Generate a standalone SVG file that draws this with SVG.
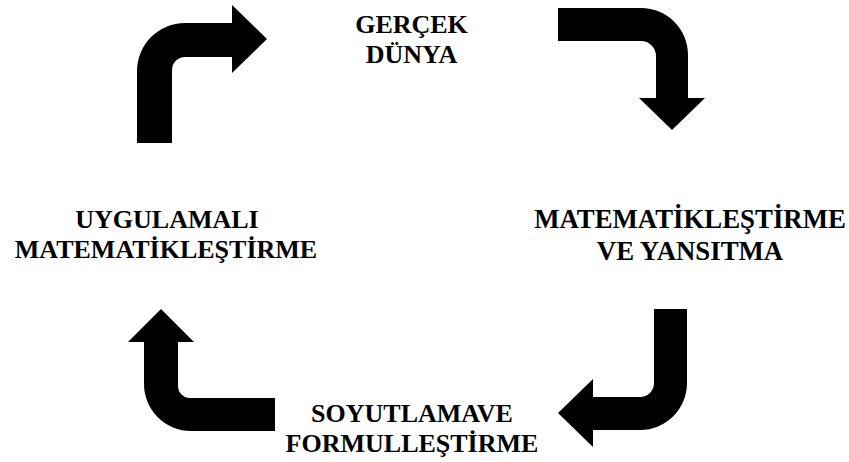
<svg xmlns="http://www.w3.org/2000/svg" width="849" height="462" viewBox="0 0 849 462">
  <style>
    .bg { fill: #ffffff; }
    .arrow { fill: #000000; stroke: none; }
    .label { font-family: "Liberation Serif", "Times New Roman", serif; font-weight: bold; font-size: 26px; fill: #000000; text-anchor: middle; }
    .label.wide { font-size: 26.8px; }
  </style>
  <rect class="bg" x="0" y="0" width="849" height="462"/>

  <!-- curved block arrows linking the stages of the cycle -->
  <g id="connectors">
    <path id="arrow-top-left" class="arrow" d="M137,143 V71 A48,48 0 0 1 185,23 H232 V5 L267,39 L232,73 V57 H185 A13,13 0 0 0 172,70 V143 Z"/>
    <path id="arrow-top-right" class="arrow" d="M558,8 H641 A47,47 0 0 1 688,55 V98 H705 L672,130 L639,98 H656 V56 A15,15 0 0 0 641,41 H558 Z"/>
    <path id="arrow-bottom-right" class="arrow" d="M654,309 H687 V383 A47,47 0 0 1 640,430 H593 V447 L558,413 L593,379 V397 H640 A14,14 0 0 0 654,383 Z"/>
    <path id="arrow-bottom-left" class="arrow" d="M275,398 V431 H191 A47,47 0 0 1 144,384 V342 H128 L161,309 L194,342 H178 V386 A12,12 0 0 0 190,398 Z"/>
  </g>

  <g id="node-gercek-dunya">
    <text class="label" x="411.5" y="33">GERÇEK</text>
    <text class="label" x="411.5" y="63">DÜNYA</text>
  </g>

  <g id="node-matematiklestirme-yansitma">
    <text class="label wide" x="690" y="228">MATEMATİKLEŞTİRME</text>
    <text class="label wide" x="690" y="260">VE YANSITMA</text>
  </g>

  <g id="node-soyutlama-formullestirme">
    <text class="label" x="412" y="422">SOYUTLAMAVE</text>
    <text class="label" x="412" y="452">FORMULLEŞTİRME</text>
  </g>

  <g id="node-uygulamali-matematiklestirme">
    <text class="label" x="167" y="228">UYGULAMALI</text>
    <text class="label" x="166" y="258">MATEMATİKLEŞTİRME</text>
  </g>
</svg>
